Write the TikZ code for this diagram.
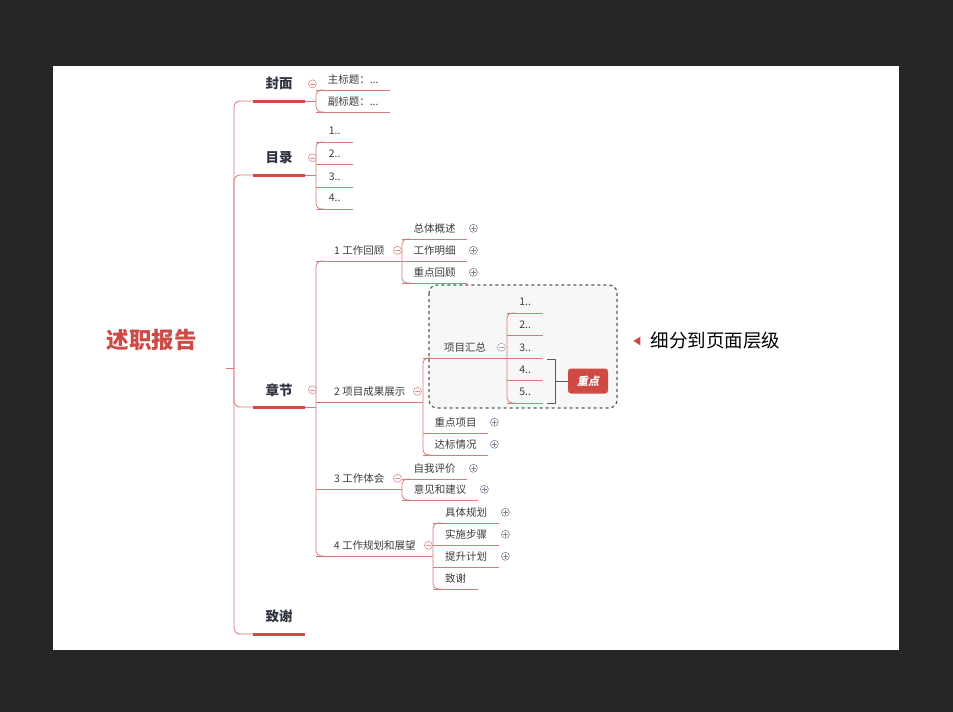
\documentclass[tikz,border=0pt]{standalone}
\usepackage{fontspec}
\setmainfont{Noto Sans CJK SC}
\newfontfamily\cjkslant[FakeSlant=0.2]{Noto Sans CJK SC}
\usetikzlibrary{positioning,shapes.geometric}

\definecolor{backdrop}{HTML}{262626}
\definecolor{accent}{HTML}{CF4A45}
\definecolor{linkred}{HTML}{D67A78}
\definecolor{foldred}{HTML}{E08C8C}
\definecolor{inkdark}{HTML}{2E3440}
\definecolor{ink}{HTML}{3C3C3C}
\definecolor{iconblue}{HTML}{A3ABBC}
\definecolor{icongray}{HTML}{7D8594}
\definecolor{boxgray}{HTML}{5A5A5A}
\definecolor{boxfill}{HTML}{F7F7F7}

\tikzset{
    root/.style={font=\bfseries\fontsize{22.5}{26}\selectfont, text=accent, anchor=south east,
        minimum width=148pt, minimum height=56pt, inner sep=0pt},
    branch/.style={font=\bfseries\fontsize{13.5}{16}\selectfont, text=inkdark, anchor=south west,
        minimum width=52pt, minimum height=34pt, inner sep=0pt},
    topic/.style={font=\fontsize{10.5}{12}\selectfont, text=ink, anchor=south west,
        minimum width=#1, minimum height=21pt, inner sep=0pt},
    link/.style={draw=linkred, line width=0.8pt},
    bar/.style={draw=accent, line width=3pt},
    fold/.style={circle, draw=#1, fill=white, line width=0.6pt, minimum size=8pt, inner sep=0pt,
        path picture={\draw[#1, line width=0.6pt] ([xshift=-2.3pt]path picture bounding box.center)
            -- ([xshift=2.3pt]path picture bounding box.center);}},
    fold/.default=foldred,
    unfold/.style={circle, draw=icongray, fill=white, line width=0.6pt, minimum size=8pt, inner sep=0pt,
        path picture={\draw[icongray, line width=0.6pt] ([xshift=-2.3pt]path picture bounding box.center)
            -- ([xshift=2.3pt]path picture bounding box.center)
            ([yshift=-2.3pt]path picture bounding box.center)
            -- ([yshift=2.3pt]path picture bounding box.center);}},
    focusbox/.style={draw=boxgray, fill=boxfill, dashed, line width=1.2pt, rounded corners=8pt},
    bracket/.style={draw=boxgray, line width=0.9pt},
    tag/.style={fill=accent, rounded corners=3pt, minimum width=40pt, minimum height=25pt, inner sep=0pt,
        text=white, font=\cjkslant\bfseries\fontsize{11}{13}\selectfont},
    marker/.style={isosceles triangle, isosceles triangle stretches, shape border rotate=180,
        fill=accent, minimum width=9pt, minimum height=7pt, inner sep=0pt},
    note/.style={font=\fontsize{18.5}{21}\selectfont, text=black, inner sep=0pt}
}

\begin{document}
\begin{tikzpicture}[x=1pt, y=-1pt]
    \fill[backdrop] (0,0) rectangle (953,712);
    \fill[white] (53,66) rectangle (899,650);
    \draw[focusbox] (429,285) rectangle (617,408);

    \node[root] (report) at (226,368) {述职报告};
    \node[branch] (cover) at (253,101) {封面};
    \node[branch] (toc) at (253,175) {目录};
    \node[branch] (chap) at (253,407) {章节};
    \node[branch] (thanks) at (253,634) {致谢};

    \node[topic=74pt] (title) at (316,90) {主标题：...};
    \node[topic=74pt] (subtitle) at (316,112) {副标题：...};

    \node[topic=37pt] (toc1) at (316,142) {1..};
    \node[topic=37pt] (toc2) at (316,164) {2..};
    \node[topic=37pt] (toc3) at (316,187) {3..};
    \node[topic=37pt] (toc4) at (316,209) {4..};

    \node[topic=86pt] (review) at (316,261) {1 工作回顾};
    \node[topic=107pt] (result) at (316,402) {2 项目成果展示};
    \node[topic=86pt] (insight) at (316,489) {3 工作体会};
    \node[topic=117pt] (plan) at (316,556) {4 工作规划和展望};

    \node[topic=65pt] (rev1) at (402,239) {总体概述};
    \node[topic=65pt] (rev2) at (402,261) {工作明细};
    \node[topic=65pt] (rev3) at (402,283) {重点回顾};

    \node[topic=84pt] (sum) at (423,358) {项目汇总};
    \node[topic=65pt] (key) at (423,433) {重点项目};
    \node[topic=65pt] (goal) at (423,455) {达标情况};

    \node[topic=36pt] (sum1) at (507,313) {1..};
    \node[topic=36pt] (sum2) at (507,335.5) {2..};
    \node[topic=36pt] (sum3) at (507,358) {3..};
    \node[topic=36pt] (sum4) at (507,380.5) {4..};
    \node[topic=36pt] (sum5) at (507,403) {5..};

    \node[topic=65pt] (self) at (402,479) {自我评价};
    \node[topic=76pt] (advice) at (402,500) {意见和建议};

    \node[topic=66pt] (plan1) at (433,523) {具体规划};
    \node[topic=66pt] (plan2) at (433,545) {实施步骤};
    \node[topic=66pt] (plan3) at (433,567) {提升计划};
    \node[topic=45pt] (plan4) at (433,589) {致谢};

    \coordinate (hub) at (234,368);
    \draw[link] (report.south east) -- (hub);
    \foreach \b in {cover,toc,chap,thanks}
        \draw[link, rounded corners=6pt] (hub) |- (\b.south west);
    \foreach \p/\c in {cover/title, toc/toc1, chap/review}
        \draw[link] (\p.south east) -- (\p.south east -| \c.south west);
    \foreach \b in {cover,toc,chap,thanks}
        \draw[bar] (\b.south west) -- (\b.south east);

    \foreach \n in {title,subtitle,toc1,toc2,toc3,toc4,review,result,insight,plan,
        rev1,rev2,rev3,sum,key,goal,sum1,sum2,sum3,sum4,sum5,self,advice,plan1,plan2,plan3,plan4}
        \draw[link] (\n.south west) -- (\n.south east);
    \foreach \a/\z in {title/subtitle, toc1/toc4, review/plan, rev1/rev3, sum/goal,
        sum1/sum5, self/advice, plan1/plan4}
        \draw[link, rounded corners=5pt] ([xshift=8pt]\a.south west) -- (\a.south west)
            -- (\z.south west) -- ([xshift=8pt]\z.south west);

    \node[fold] (coverfold) at ([xshift=7pt]cover.east) {};
    \node[fold] (tocfold) at ([xshift=7pt]toc.east) {};
    \node[fold] (chapfold) at ([xshift=7pt]chap.east) {};
    \node[fold] (reviewfold) at ([xshift=-5pt]review.east) {};
    \node[fold] (resultfold) at ([xshift=-6pt]result.east) {};
    \node[fold] (insightfold) at ([xshift=-5pt]insight.east) {};
    \node[fold] (planfold) at ([xshift=-5pt]plan.east) {};
    \node[fold=iconblue] (sumfold) at ([xshift=-6pt]sum.east) {};

    \foreach \n in {rev1,rev2,rev3,key,goal,self,advice,plan1,plan2,plan3}
        \node[unfold] (\n more) at ([xshift=6pt]\n.east) {};

    \node[tag] (focus) at (588,381) {重点};
    \coordinate (brk) at ([xshift=12pt]sum5.south east);
    \draw[bracket] ([xshift=4pt]sum4.north east) -| (brk) -- ([xshift=4pt]sum5.south east);
    \draw[bracket] (focus.west -| brk) -- (focus.west);

    \node[marker] (mark) at (638,341) {};
    \node[note, right=10pt of mark] (note) {细分到页面层级};
\end{tikzpicture}
\end{document}
